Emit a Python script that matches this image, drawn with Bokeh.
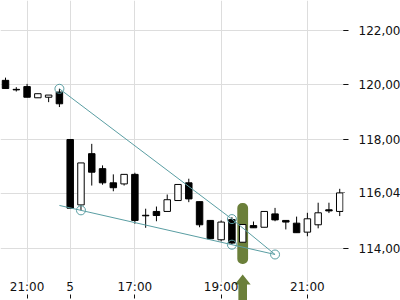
from bokeh.plotting import figure
from bokeh.models import Range1d, FixedTicker, CustomJSTickFormatter, Grid
from bokeh.embed import file_html
from bokeh.resources import INLINE

# ---- data (15-minute candles) ----
idx = list(range(32))
opens  = [120.17, 119.84, 119.94, 119.53, 119.55, 119.74, 118.00, 115.60, 117.48, 116.93,
          116.41, 116.37, 116.72, 115.22, 115.36, 115.36, 115.76, 116.41, 115.72, 115.03,
          114.32, 115.06, 114.23, 114.84, 114.78, 115.27, 115.03, 114.93, 114.60, 114.87,
          115.42, 115.36]
closes = [119.87, 119.82, 119.55, 119.68, 119.63, 119.31, 115.48, 117.14, 116.80, 116.41,
          116.23, 116.72, 115.03, 115.20, 115.21, 115.79, 116.35, 115.82, 114.87, 114.36,
          114.97, 114.20, 114.88, 114.76, 115.36, 115.05, 114.97, 114.58, 115.09, 115.31,
          115.38, 116.04]
highs  = [120.27, 119.92, 120.04, 119.68, 119.63, 119.86, 118.00, 117.14, 117.84, 117.05,
          116.72, 116.72, 116.78, 115.46, 115.54, 115.98, 116.35, 116.56, 115.72, 115.03,
          115.03, 115.15, 114.88, 114.99, 115.36, 115.49, 115.03, 115.17, 115.31, 115.68,
          115.68, 116.19]
lows   = [119.87, 119.76, 119.55, 119.53, 119.37, 119.19, 115.48, 115.40, 116.31, 116.34,
          116.10, 116.31, 114.91, 114.76, 115.00, 115.36, 115.76, 115.70, 114.78, 114.36,
          114.26, 114.15, 114.23, 114.76, 114.78, 115.00, 114.70, 114.58, 114.45, 114.74,
          115.30, 115.19]

tick_idx = [2, 6, 12, 20, 28]
tick_labels = ["21:00", "5", "17:00", "19:00", "21:00"]
price_ticks = [114, 116.04, 118, 120, 122]
grid_prices = [114, 116, 118, 120, 122]
last_price = 116.04

# trend lines (index, price)
upper_x = [5, 21, 25]
upper_y = [119.86, 115.08, 113.78]
lower_x = [5, 7, 21, 25]
lower_y = [115.58, 115.40, 114.14, 113.78]
anchor_x = [5, 7, 21, 21, 25]
anchor_y = [119.86, 115.40, 115.08, 114.14, 113.78]

# highlighted candle
hl_index = 22
hl_top = 115.67
hl_bottom = 113.43

# price scale layout
y_top = 123.10
y_bottom = 112.092      # canvas bottom
grid_bottom = 112.75    # where the price grid stops, above the time labels
time_axis_at = 112.165  # baseline of the time ticks

GREEN = "#6b7f3a"
TEAL = "#5a9ea3"
FONT = "DejaVu Sans"
TXT = "#111111"

p = figure(frame_width=343, frame_height=300,
           x_range=Range1d(-0.464, 31.35), y_range=Range1d(y_bottom, y_top),
           output_backend="svg", toolbar_location=None,
           y_axis_location="right", min_border=0)
p.outline_line_color = None
p.background_fill_color = "white"

# time axis: ticks pointing up from the bottom, labels above them
xa = p.xaxis[0]
xa.fixed_location = time_axis_at
xa.ticker = FixedTicker(ticks=tick_idx)
xa.major_label_overrides = {i: l for i, l in zip(tick_idx, tick_labels)}
xa.axis_line_color = None
xa.major_tick_in = 4
xa.major_tick_out = 0
xa.minor_tick_out = 0
xa.minor_tick_in = 0
xa.major_tick_line_color = TXT
xa.major_label_standoff = -19
xa.major_label_text_font = FONT
xa.major_label_text_font_size = "12px"
xa.major_label_text_color = TXT

# price axis
ya = p.yaxis[0]
ya.ticker = FixedTicker(ticks=price_ticks, minor_ticks=[t for t in price_ticks if t != last_price])
ya.formatter = CustomJSTickFormatter(code="return tick.toFixed(2).replace('.', ',');")
ya.axis_line_color = None
ya.major_tick_in = 0
ya.major_tick_out = 1
ya.minor_tick_in = 0
ya.minor_tick_out = 5
ya.major_tick_line_color = TXT
ya.minor_tick_line_color = TXT
ya.major_label_standoff = 10
ya.major_label_text_font = FONT
ya.major_label_text_font_size = "12px"
ya.major_label_text_color = TXT

p.xgrid[0].ticker = FixedTicker(ticks=tick_idx)
p.ygrid[0].ticker = FixedTicker(ticks=grid_prices)
p.xgrid[0].grid_line_color = "#dddddd"
p.ygrid[0].grid_line_color = "#dddddd"
if "cross_bounds" in Grid.properties():
    p.xgrid[0].cross_bounds = (grid_bottom, y_top)

# highlight bar
p.vbar(x=[hl_index], top=[hl_top], bottom=[hl_bottom], width=1.0,
       fill_color=GREEN, line_color=None, border_radius=5)

# candles
p.segment(x0=idx, y0=lows, x1=idx, y1=highs, line_color="black", line_width=1)
up = [i for i in idx if closes[i] >= opens[i]]
dn = [i for i in idx if closes[i] < opens[i]]
p.vbar(x=dn, top=[opens[i] for i in dn], bottom=[closes[i] for i in dn], width=0.6,
       fill_color="black", line_color="black", line_width=1)
p.vbar(x=up, top=[closes[i] for i in up], bottom=[opens[i] for i in up], width=0.6,
       fill_color="white", line_color="black", line_width=1)

# trend lines
p.line(upper_x, upper_y, line_color=TEAL, line_width=1)
p.line(lower_x, lower_y, line_color=TEAL, line_width=1)
p.scatter(anchor_x, anchor_y, marker="circle", size=9, fill_color=None,
          line_color=TEAL, line_width=1)

# arrow under the highlighted candle
hw, sw = 0.74, 0.40
tip, base = 113.05, 112.68
p.patch(x=[hl_index, hl_index + hw, hl_index + sw, hl_index + sw, hl_index - sw, hl_index - sw, hl_index - hw],
        y=[tip, base, base, y_bottom, y_bottom, base, base],
        fill_color=GREEN, line_color=None)

open("out.html", "w").write(file_html(p, INLINE))
